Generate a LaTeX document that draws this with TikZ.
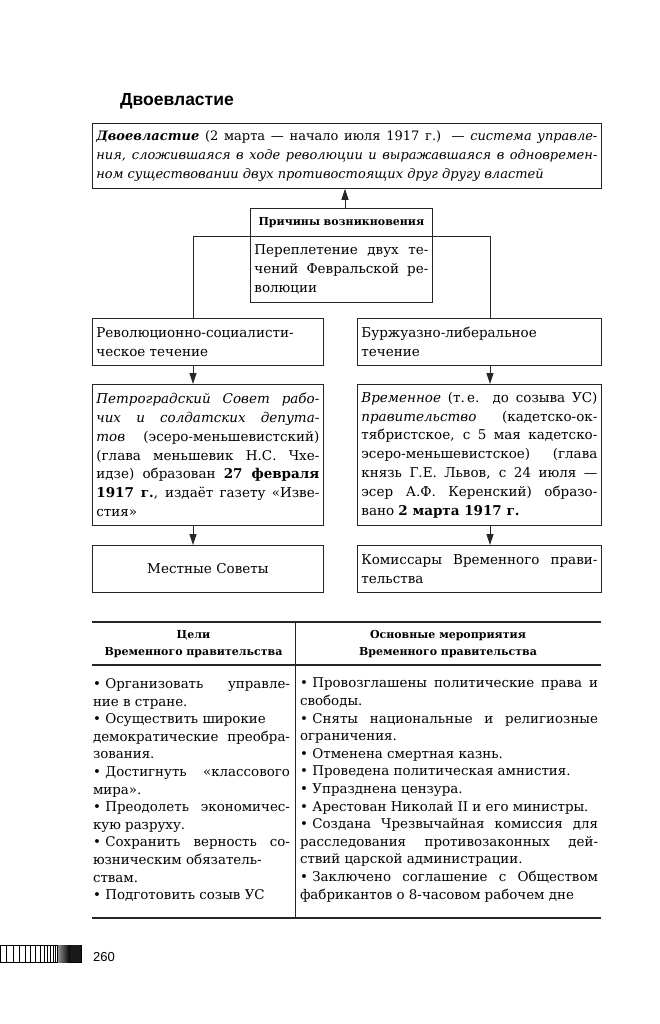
\documentclass[tikz,border=0pt]{standalone}
\usepackage{fontspec}
\setmainfont{DejaVu Serif}
\newfontfamily\sansfont{Liberation Sans}
\usetikzlibrary{arrows.meta,calc}
\newcommand\bodyfont{\fontsize{13.5}{18.8}\selectfont}
\newcommand\topfont{\fontsize{13}{18.8}\selectfont}
\newcommand\tabfont{\fontsize{13.4}{17.6}\selectfont}
\newcommand\headfont{\bfseries\fontsize{11}{16.7}\selectfont}
\newcommand\parsetup{\tolerance=10000\hyphenpenalty=10000\exhyphenpenalty=10000\parindent=0pt\emergencystretch=0pt}
\newcommand\itm{\textbullet\hspace{4.5pt}}
\begin{document}
\begin{tikzpicture}[x=1pt,y=-1pt,
  box/.style={draw=black!85, line width=0.8pt, inner xsep=4pt, inner ysep=0pt, anchor=north west, align=justify, font=\bodyfont, execute at begin node=\parsetup},
  conn/.style={draw=black!85, line width=0.8pt},
  arr/.style={conn, -{Triangle[length=11pt,width=7pt]}},
  rule/.style={draw=black!85, line width=1.2pt},
  cell/.style={font=\tabfont, align=justify, inner sep=0pt, execute at begin node=\parsetup},
  thead/.style={font=\headfont, align=center, inner sep=0pt}
]
\useasboundingbox (0,0) rectangle (660,1024);

\node[font=\sansfont\bfseries\fontsize{17.5}{17.5}\selectfont, anchor=base west, inner sep=0pt] (title) at (120,106) {Двоевластие};

\node[box, font=\topfont, text width=501pt, minimum height=65pt] (top) at (92,123) {\textbf{\textit{Двоевластие}} (2~марта — начало июля 1917~г.) — \textit{система управле-\linebreak ния, сложившаяся в ходе революции и выражавшаяся в одновремен-\linebreak ном существовании двух противостоящих друг другу властей}};

\node[box, text width=174pt, minimum height=28pt, align=center, font=\headfont] (hdr) at (250,208) {Причины возникновения};
\node[box, text width=174pt, minimum height=66pt] (cause) at (250,236) {Переплетение двух те-\linebreak чений Февральской ре-\linebreak волюции};

\node[box, text width=223pt, minimum height=47pt] (rs) at (92,318) {Революционно-социалисти-\linebreak ческое течение};
\node[box, text width=236pt, minimum height=47pt] (bl) at (357,318) {Буржуазно-либеральное\hfil\break течение};

\node[box, text width=223pt, minimum height=141pt] (ps) at (92,384) {\textit{Петроградский Совет рабо-\linebreak чих и солдатских депута-\linebreak тов} (эсеро-меньшевистский)\linebreak (глава меньшевик Н.С.~Чхе-\linebreak идзе) образован \textbf{27 февраля\linebreak 1917~г.}, издаёт газету «Изве-\linebreak стия»};
\node[box, text width=236pt, minimum height=141pt] (vp) at (357,384) {\textit{Временное} (т.\,е. до созыва УС)\linebreak \textit{правительство} (кадетско-ок-\linebreak тябристское, с 5 мая кадетско-\linebreak эсеро-меньшевистское) (глава\linebreak князь Г.Е.~Львов, с 24 июля —\linebreak эсер А.Ф.~Керенский) образо-\linebreak вано \textbf{2 марта 1917~г.}};

\node[box, text width=223pt, minimum height=47pt, align=center] (ms) at (92,545) {Местные Советы};
\node[box, text width=236pt, minimum height=47pt] (kv) at (357,545) {Комиссары Временного прави-\linebreak тельства};

\coordinate (ax) at (345,0);
\coordinate (lx) at (193,0);
\coordinate (rx) at (490,0);
\draw[arr] (hdr.north -| ax) -- (top.south -| ax);
\draw[conn] (hdr.south west) -| (rs.north -| lx);
\draw[conn] (hdr.south east) -| (bl.north -| rx);
\draw[arr] (rs.south -| lx) -- (ps.north -| lx);
\draw[arr] (bl.south -| rx) -- (vp.north -| rx);
\draw[arr] (ps.south -| lx) -- (ms.north -| lx);
\draw[arr] (vp.south -| rx) -- (kv.north -| rx);

% table
\coordinate (t1) at (92,622); \coordinate (t2) at (601,622);
\coordinate (h1) at (92,665); \coordinate (h2) at (601,665);
\coordinate (b1) at (92,918); \coordinate (b2) at (601,918);
\coordinate (d1) at (295,622); \coordinate (d2) at (295,918);
\draw[rule] (t1) -- (t2);
\draw[rule] (h1) -- (h2);
\draw[rule] (b1) -- (b2);
\draw[conn, line width=1pt] (d1) -- (d2);

\node[thead] (th1) at (193.5,644) {Цели\\Временного правительства};
\node[thead] (th2) at (448,644) {Основные мероприятия\\Временного правительства};

\node[cell, text width=197pt] (c1) at (191.5,790) {\itm Организовать управле-\linebreak ние в стране.\par
\itm Осуществить широкие\hfil\break демократические преобра-\linebreak зования.\par
\itm Достигнуть «классового\linebreak мира».\par
\itm Преодолеть экономичес-\linebreak кую разруху.\par
\itm Сохранить верность со-\linebreak юзническим обязатель-\hfil\break ствам.\par
\itm Подготовить созыв УС};

\node[cell, text width=298pt] (c2) at (449,790) {\itm Провозглашены политические права и\linebreak свободы.\par
\itm Сняты национальные и религиозные\linebreak ограничения.\par
\itm Отменена смертная казнь.\par
\itm Проведена политическая амнистия.\par
\itm Упразднена цензура.\par
\itm Арестован Николай II и его министры.\par
\itm Создана Чрезвычайная комиссия для\linebreak расследования противозаконных дей-\linebreak ствий царской администрации.\par
\itm Заключено соглашение с Обществом\linebreak фабрикантов о 8-часовом рабочем дне};

% page strip
\draw[line width=0.6pt] (0,945) rectangle (81,962);
\foreach \x in {6.5,13,19,25,30.5,35.5,40,44,47.5,50.5,53,55.3,57.3}
  \draw[line width=0.6pt] (\x,945) -- (\x,962);
\shade[left color=black!45, right color=black] (58,945) rectangle (70,962);
\fill[black!90] (70,945) rectangle (81,962);
\node[font=\sansfont\fontsize{13}{13}\selectfont, anchor=base west, inner sep=0pt] (pg) at (93,961) {260};
\end{tikzpicture}
\end{document}
